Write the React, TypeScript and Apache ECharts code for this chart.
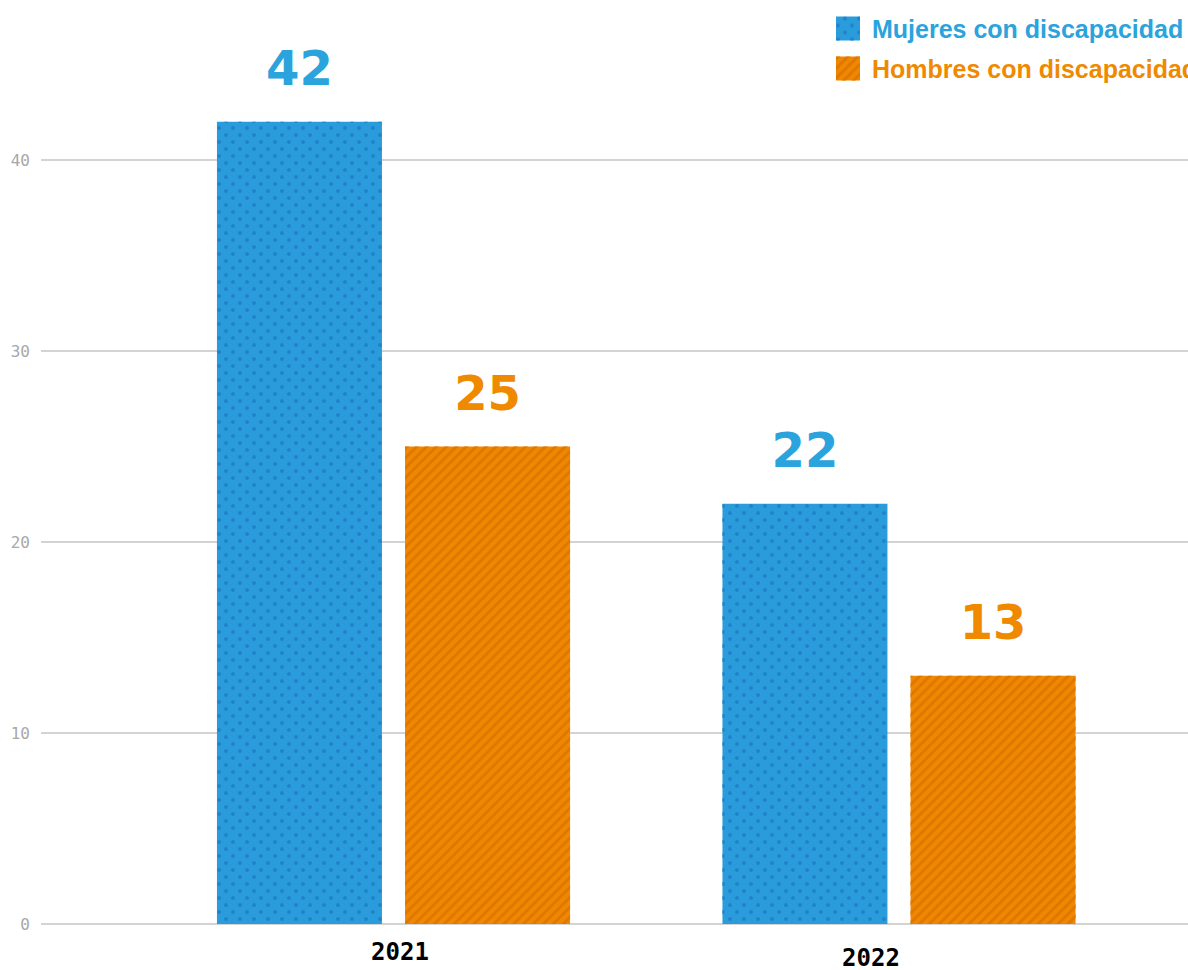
import React, { useEffect, useRef } from 'react';
import * as echarts from 'echarts';

const categories = ['2021', '2022'];
const seriesNames = ['Mujeres con discapacidad', 'Hombres con discapacidad'];
const mujeres = [42, 22];
const hombres = [25, 13];
const yTickMin = 0;
const yTickMax = 40;
const yTickStep = 10;

const BLUE = '#2a9bdb';
const BLUE_DOT = '#2083cc';
const BLUE_TEXT = '#2ba3dc';
const ORANGE = '#ef8800';
const ORANGE_STRIPE = '#e07800';
const ORANGE_TEXT = '#ef8a00';

export default function App() {
  const ref = useRef<HTMLDivElement>(null);

  useEffect(() => {
    if (!ref.current) return;
    const chart = echarts.init(ref.current, null, { renderer: 'svg' });
    const labelFont = {
      fontFamily: 'DejaVu Sans Mono',
      fontWeight: 'bold' as const,
      fontSize: 24,
      color: '#000',
      lineHeight: 24,
    };
    chart.setOption({
      animation: false,
      backgroundColor: '#ffffff',
      legend: {
        orient: 'vertical',
        left: 836,
        top: 16,
        padding: 0,
        itemWidth: 24,
        itemHeight: 24,
        itemGap: 15,
        icon: 'rect',
        textStyle: {
          fontFamily: 'Liberation Sans',
          fontWeight: 'bold',
          fontSize: 25,
          padding: [0, 0, 0, 7],
        },
        data: [
          { name: seriesNames[0], textStyle: { color: BLUE_TEXT } },
          { name: seriesNames[1], textStyle: { color: ORANGE_TEXT } },
        ],
      },
      grid: [
        { left: 41, right: 0, top: 160, bottom: 46, outerBoundsMode: 'none' },
        { left: 140.75, right: 36.25, top: 64.5, bottom: 46, outerBoundsMode: 'none' },
      ],
      xAxis: [
        { gridIndex: 0, type: 'category', data: categories, show: false },
        {
          gridIndex: 1,
          type: 'category',
          data: categories,
          axisLine: { show: false },
          axisTick: { show: false },
          axisLabel: {
            margin: 16,
            ...labelFont,
            formatter: (v: string) => (v === categories[0] ? `{a|${v}}` : `{b|${v}}`),
            rich: {
              a: { ...labelFont, padding: [0, 0, 0, 13] },
              b: { ...labelFont, lineHeight: 20, padding: [16, 56, 0, 0] },
            },
          },
        },
      ],
      yAxis: [
        {
          gridIndex: 0,
          type: 'value',
          min: yTickMin,
          max: yTickMax,
          interval: yTickStep,
          axisLine: { show: false },
          axisTick: { show: false },
          splitLine: { lineStyle: { color: '#c4c4c4', width: 1.5 } },
          axisLabel: {
            margin: 11,
            color: '#a8a8a8',
            fontFamily: 'DejaVu Sans Mono',
            fontSize: 16,
          },
        },
        { gridIndex: 1, type: 'value', min: 0, max: 45, show: false },
      ],
      series: [
        {
          name: seriesNames[0],
          type: 'bar',
          xAxisIndex: 1,
          yAxisIndex: 1,
          data: mujeres,
          barWidth: 165,
          barGap: '14%',
          itemStyle: {
            color: BLUE,
            decal: {
              symbol: 'circle',
              symbolSize: 1,
              color: BLUE_DOT,
              dashArrayX: [
                [4, 10],
                [0, 7, 4, 3],
              ],
              dashArrayY: [4, 3],
              rotation: 0,
            },
          },
          label: {
            show: true,
            position: 'top',
            distance: 30,
            fontFamily: 'DejaVu Sans',
            fontWeight: 'bold',
            fontSize: 48,
            color: BLUE_TEXT,
          },
        },
        {
          name: seriesNames[1],
          type: 'bar',
          xAxisIndex: 1,
          yAxisIndex: 1,
          data: hombres,
          barWidth: 165,
          barGap: '14%',
          itemStyle: {
            color: ORANGE,
            decal: {
              symbol: 'rect',
              symbolSize: 1,
              color: ORANGE_STRIPE,
              dashArrayX: [1, 0],
              dashArrayY: [3, 4],
              rotation: -Math.PI / 4,
            },
          },
          label: {
            show: true,
            position: 'top',
            distance: 30,
            fontFamily: 'DejaVu Sans',
            fontWeight: 'bold',
            fontSize: 48,
            color: ORANGE_TEXT,
          },
        },
      ],
    });
    return () => chart.dispose();
  }, []);

  return (
    <div
      ref={ref}
      style={{ position: 'absolute', left: 0, top: 0, width: 1188, height: 970 }}
    />
  );
}
